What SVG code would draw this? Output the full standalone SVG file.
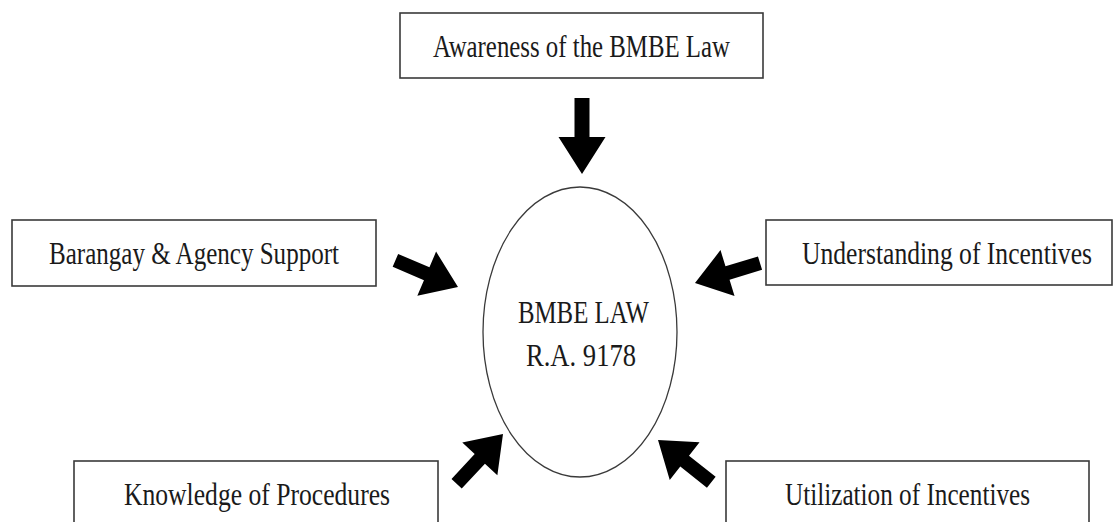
<svg xmlns="http://www.w3.org/2000/svg" xmlns:xlink="http://www.w3.org/1999/xlink" width="1120" height="522" viewBox="0 0 1120 522">
<style>
.box{fill:#fff;stroke:#3a3a3a;stroke-width:1.6}
.ell{fill:#fff;stroke:#3a3a3a;stroke-width:1.3}
.t{font-family:"Liberation Serif","Times New Roman",serif;font-size:26px;fill:#1a1a1a}
.arr{fill:#000}
</style>
<defs>
<polygon id="arrD" points="0,0 -34,-24 -34,-7 -68,-7 -68,7 -34,7 -34,24"/>
<polygon id="arrT" points="0,0 -37,-23.5 -37,-7.5 -76,-7.5 -76,7.5 -37,7.5 -37,23.5"/>
</defs>
<rect width="1120" height="522" fill="#fff"/>
<g id="connectors" class="arr">
<use xlink:href="#arrT" transform="translate(582,174) rotate(90)"/>
<use xlink:href="#arrD" transform="translate(458,287) rotate(23)"/>
<use xlink:href="#arrD" transform="translate(695,283) rotate(163)"/>
<use xlink:href="#arrD" transform="translate(503,434) rotate(-47)"/>
<use xlink:href="#arrD" transform="translate(658,440) rotate(-141.6)"/>
</g>
<g id="node-awareness">
<rect class="box" x="400" y="13" width="363" height="65"/>
<text class="t" transform="translate(433,57) scale(1,1.19)" textLength="297" lengthAdjust="spacingAndGlyphs">Awareness of the BMBE Law</text>
</g>
<g id="node-barangay">
<rect class="box" x="12" y="220" width="364" height="66"/>
<text class="t" transform="translate(49,264) scale(1,1.19)" textLength="290" lengthAdjust="spacingAndGlyphs">Barangay &amp; Agency Support</text>
</g>
<g id="node-understanding">
<rect class="box" x="766" y="220" width="346" height="65"/>
<text class="t" transform="translate(802,264) scale(1,1.19)" textLength="290" lengthAdjust="spacingAndGlyphs">Understanding of Incentives</text>
</g>
<g id="node-knowledge">
<rect class="box" x="74" y="461" width="364" height="80"/>
<text class="t" transform="translate(124,505) scale(1,1.19)" textLength="266" lengthAdjust="spacingAndGlyphs">Knowledge of Procedures</text>
</g>
<g id="node-utilization">
<rect class="box" x="726" y="461" width="363" height="80"/>
<text class="t" transform="translate(785,505) scale(1,1.19)" textLength="245" lengthAdjust="spacingAndGlyphs">Utilization of Incentives</text>
</g>
<g id="node-bmbe">
<ellipse class="ell" cx="580" cy="332" rx="97" ry="145"/>
<text class="t" transform="translate(518,323) scale(1,1.19)" textLength="131" lengthAdjust="spacingAndGlyphs">BMBE LAW</text>
<text class="t" transform="translate(526,366) scale(1,1.19)" textLength="110" lengthAdjust="spacingAndGlyphs">R.A. 9178</text>
</g>
</svg>
